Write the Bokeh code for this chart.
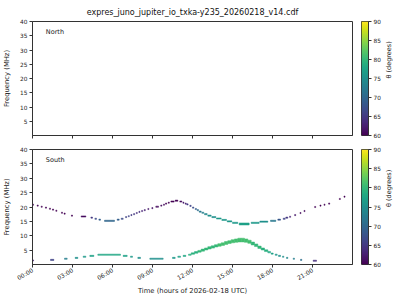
import math
import numpy as np
from bokeh.plotting import figure
from bokeh.models import (ColumnDataSource, LinearColorMapper, FixedTicker,
                          Label, Range1d, Title)
from bokeh.layouts import column, row
from bokeh.palettes import Viridis256
from bokeh.embed import file_html
from bokeh.resources import INLINE

TITLE = "expres_juno_jupiter_io_txka-y235_20260218_v14.cdf"
x_tick_hours = [0, 3, 6, 9, 12, 15, 18, 21]
x_tick_labels = ["00:00", "03:00", "06:00", "09:00", "12:00", "15:00", "18:00", "21:00"]
y_ticks = [5, 10, 15, 20, 25, 30, 35, 40]
cbar_ticks = [60, 65, 70, 75, 80, 85, 90]
theta_low, theta_high = 60, 90

# South hemisphere, upper (high-frequency) branch: start/end hour, frequency (MHz), theta (deg)
hi_start = [0.0, 0.35, 0.65, 0.97, 1.27, 1.5, 1.75, 2.17, 2.37, 2.92, 3.65, 4.38, 4.68, 4.98,
            5.4, 6.35, 6.65, 6.98, 7.18, 7.38, 7.58, 7.78, 7.98, 8.18, 8.38, 8.65, 8.95, 9.25,
            9.62, 9.82, 9.98, 10.18, 10.38, 10.7, 11.05, 11.28, 11.45, 11.57, 11.8, 12.0, 12.2,
            12.35, 12.5, 12.7, 12.9, 13.15, 13.45, 13.8, 14.2, 14.6, 15.0, 15.5, 16.4, 17.05,
            17.85, 18.4, 18.8, 19.0, 19.28, 19.66, 20.06, 20.36, 21.16, 21.56, 21.86, 22.21,
            23.01, 23.36]
hi_end = [0.08, 0.43, 0.73, 1.05, 1.35, 1.58, 1.83, 2.25, 2.45, 3.0, 4.0, 4.5, 4.8, 5.1,
          6.15, 6.5, 6.8, 7.06, 7.26, 7.46, 7.66, 7.86, 8.06, 8.26, 8.46, 8.73, 9.03, 9.45,
          9.7, 9.9, 10.06, 10.26, 10.62, 10.9, 11.2, 11.36, 11.53, 11.67, 11.9, 12.1, 12.3,
          12.45, 12.65, 12.85, 13.1, 13.4, 13.75, 14.15, 14.55, 14.95, 15.4, 16.25, 17.0, 17.65,
          18.25, 18.6, 18.95, 19.15, 19.36, 19.74, 20.14, 20.44, 21.24, 21.64, 21.94, 22.29,
          23.09, 23.44]
hi_freq = [20.8, 20.5, 20.1, 19.8, 19.4, 19.1, 18.7, 18.0, 17.7, 17.0, 16.7, 16.3, 15.9, 15.6,
           15.2, 15.6, 15.9, 16.5, 16.8, 17.2, 17.5, 17.9, 18.3, 18.6, 18.9, 19.3, 19.6, 20.1,
           20.5, 20.8, 21.2, 21.5, 21.9, 22.2, 21.9, 21.5, 21.2, 20.9, 20.4, 19.8, 19.3,
           18.9, 18.4, 18.0, 17.5, 17.0, 16.5, 16.0, 15.5, 15.0, 14.5, 14.1, 14.5, 14.9,
           15.2, 15.6, 15.9, 16.3, 16.6, 17.2, 17.9, 18.6, 20.0, 20.5, 20.8, 21.2,
           22.8, 23.6]
hi_theta = [60, 60, 60, 60, 60, 60, 60, 60, 60, 60, 61, 65, 67, 69,
            70, 69, 67, 66, 66, 65, 65, 64, 64, 63, 63, 62, 62, 61,
            61, 61, 60, 60, 60, 60, 61, 62, 63, 65, 66, 67, 69,
            71, 72, 73, 74, 75, 75, 76, 76, 76, 76, 77, 76, 75,
            72, 68, 66, 65, 63, 62, 61, 61, 60, 60, 60, 60,
            60, 60]
hi_bw = [0.4] * 51 + [0.7] + [0.4] * 16

# South hemisphere, lower branch: start/end hour, frequency (MHz), theta (deg), bandwidth (MHz)
lo_start = [0.0, 1.35, 2.4, 3.2, 3.8, 4.3, 4.9, 6.8, 7.35, 7.9, 8.8, 10.5, 10.9, 11.3, 11.7,
            11.9, 12.15, 12.4, 12.65, 12.9, 13.15, 13.4, 13.65, 13.9, 14.15, 14.4, 14.65, 14.9,
            15.15, 15.4, 15.65, 15.9, 16.15, 16.4, 16.65, 16.9, 17.15, 17.4, 17.65,
            17.9, 18.2, 18.45, 18.75, 19.05, 19.55, 20.1, 21.05]
lo_end = [0.08, 1.6, 2.6, 3.4, 4.0, 4.6, 6.6, 7.1, 7.5, 8.1, 9.8, 10.7, 11.1, 11.5, 11.9,
          12.15, 12.4, 12.65, 12.9, 13.15, 13.4, 13.65, 13.9, 14.15, 14.4, 14.65, 14.9, 15.15,
          15.4, 15.65, 15.9, 16.15, 16.4, 16.65, 16.9, 17.15, 17.4, 17.65, 17.85,
          18.05, 18.35, 18.6, 18.85, 19.15, 19.65, 20.2, 21.3]
lo_freq = [1.4, 1.6, 2.0, 2.3, 2.7, 3.0, 3.4, 3.0, 2.7, 2.3, 2.0, 2.3, 2.7, 3.0, 3.4,
           3.8, 4.2, 4.6, 5.0, 5.4, 5.8, 6.1, 6.5, 6.8, 7.1, 7.5, 7.8, 8.1,
           8.3, 8.5, 8.5, 8.3, 7.9, 7.3, 6.7, 6.0, 5.4, 4.8, 4.3,
           3.8, 3.4, 3.0, 2.7, 2.3, 2.0, 1.6, 1.3]
lo_theta = [63, 66, 73, 75, 76, 77, 78, 77, 76, 75, 75, 76, 77, 78, 79,
            79, 79, 80, 80, 80, 80, 80, 80, 81, 81, 81, 81, 81,
            81, 81, 81, 81, 81, 80, 80, 80, 79, 79, 78,
            77, 76, 75, 75, 74, 73, 71, 64]
lo_bw = [0.4, 0.4, 0.4, 0.4, 0.4, 0.4, 0.4, 0.4, 0.4, 0.4, 0.4, 0.4, 0.4, 0.4, 0.4,
         0.5, 0.6, 0.6, 0.7, 0.7, 0.8, 0.8, 0.8, 0.9, 0.9, 1.0, 1.0, 1.1,
         1.2, 1.3, 1.3, 1.2, 1.1, 1.0, 0.9, 0.8, 0.7, 0.6, 0.5,
         0.4, 0.4, 0.4, 0.4, 0.4, 0.4, 0.4, 0.4]

FONT = "DejaVu Sans"
AX = "#333333"
TXT = "#222222"

mapper = LinearColorMapper(palette=Viridis256, low=theta_low, high=theta_high)


def style_axis(ax):
    ax.axis_line_color = AX
    ax.major_tick_line_color = AX
    ax.major_tick_in = 0
    ax.major_tick_out = 3
    ax.minor_tick_line_color = None
    ax.major_label_text_font = FONT
    ax.major_label_text_font_size = "5.8px"
    ax.major_label_text_color = TXT
    ax.axis_label_text_font = FONT
    ax.axis_label_text_font_size = "6.8px"
    ax.axis_label_text_font_style = "normal"
    ax.axis_label_text_color = TXT


def make_panel(frame_h, top, bottom, hemi_text, show_x_labels):
    p = figure(frame_width=320, frame_height=frame_h, x_range=Range1d(0, 24),
               y_range=Range1d(0, 40), output_backend="svg", toolbar_location=None,
               min_border_left=31, min_border_right=9, min_border_top=top,
               min_border_bottom=bottom)
    p.xgrid.visible = False
    p.ygrid.visible = False
    p.outline_line_color = AX
    p.outline_line_width = 1
    style_axis(p.xaxis[0])
    style_axis(p.yaxis[0])

    p.yaxis.ticker = FixedTicker(ticks=y_ticks)
    p.yaxis.axis_label = "Frequency (MHz)"
    p.yaxis.axis_label_standoff = 6
    p.yaxis.major_label_standoff = 2

    p.xaxis.ticker = FixedTicker(ticks=x_tick_hours)
    if show_x_labels:
        p.xaxis.major_label_overrides = {h: s for h, s in zip(x_tick_hours, x_tick_labels)}
        p.xaxis.major_label_orientation = math.pi / 6
        p.xaxis.major_label_text_font_size = "6px"
        p.xaxis.major_label_standoff = 2
        p.xaxis.axis_label = "Time (hours of 2026-02-18 UTC)"
        p.xaxis.axis_label_standoff = 0
    else:
        p.xaxis.major_label_overrides = {h: "" for h in x_tick_hours}
        p.xaxis.major_label_standoff = 0

    p.add_layout(Label(x=1.0, y=36.4, text=hemi_text, text_align="left",
                       text_baseline="middle", text_font=FONT, text_font_size="6.5px",
                       text_color=TXT))
    return p


def make_cbar(frame_h, top, bottom):
    c = figure(frame_width=7, frame_height=frame_h, x_range=Range1d(0, 1),
               y_range=Range1d(theta_low, theta_high), output_backend="svg",
               toolbar_location=None, x_axis_location=None, y_axis_location="right",
               min_border_left=0, min_border_right=33, min_border_top=top,
               min_border_bottom=bottom)
    c.xgrid.visible = False
    c.ygrid.visible = False
    c.outline_line_color = AX
    grad = np.linspace(theta_low, theta_high, 256).reshape(256, 1)
    c.image(image=[grad], x=0, y=theta_low, dw=1, dh=theta_high - theta_low,
            color_mapper=mapper)
    ax = c.yaxis[0]
    style_axis(ax)
    ax.ticker = FixedTicker(ticks=cbar_ticks)
    ax.major_label_standoff = 2
    ax.axis_label = "θ (degrees)"
    ax.axis_label_text_font_size = "6.5px"
    ax.axis_label_standoff = 5
    if "axis_label_orientation" in ax.properties():
        ax.axis_label_orientation = math.pi / 2
    return c


top = make_panel(114, 19, 8, "North", False)
top.add_layout(Title(text=TITLE, align="center", text_font=FONT, text_font_size="8px",
                     text_font_style="normal", text_color="#111111"), "above")
top_cb = make_cbar(114, 19, 8)

bot = make_panel(115, 6, 38, "South", True)
bot_cb = make_cbar(115, 6, 38)

hi_src = ColumnDataSource(dict(left=hi_start, right=hi_end,
                               bottom=[f - b / 2 for f, b in zip(hi_freq, hi_bw)],
                               top=[f + b / 2 for f, b in zip(hi_freq, hi_bw)],
                               theta=hi_theta))
lo_src = ColumnDataSource(dict(left=lo_start, right=lo_end,
                               bottom=[f - b / 2 for f, b in zip(lo_freq, lo_bw)],
                               top=[f + b / 2 for f, b in zip(lo_freq, lo_bw)],
                               theta=lo_theta))
for src in (hi_src, lo_src):
    bot.quad(left="left", right="right", bottom="bottom", top="top", source=src,
             fill_color={"field": "theta", "transform": mapper},
             line_color={"field": "theta", "transform": mapper}, line_width=0.5)

layout = column(row(top, top_cb, spacing=0), row(bot, bot_cb, spacing=0), spacing=0)
open("out.html", "w").write(file_html(layout, INLINE))
